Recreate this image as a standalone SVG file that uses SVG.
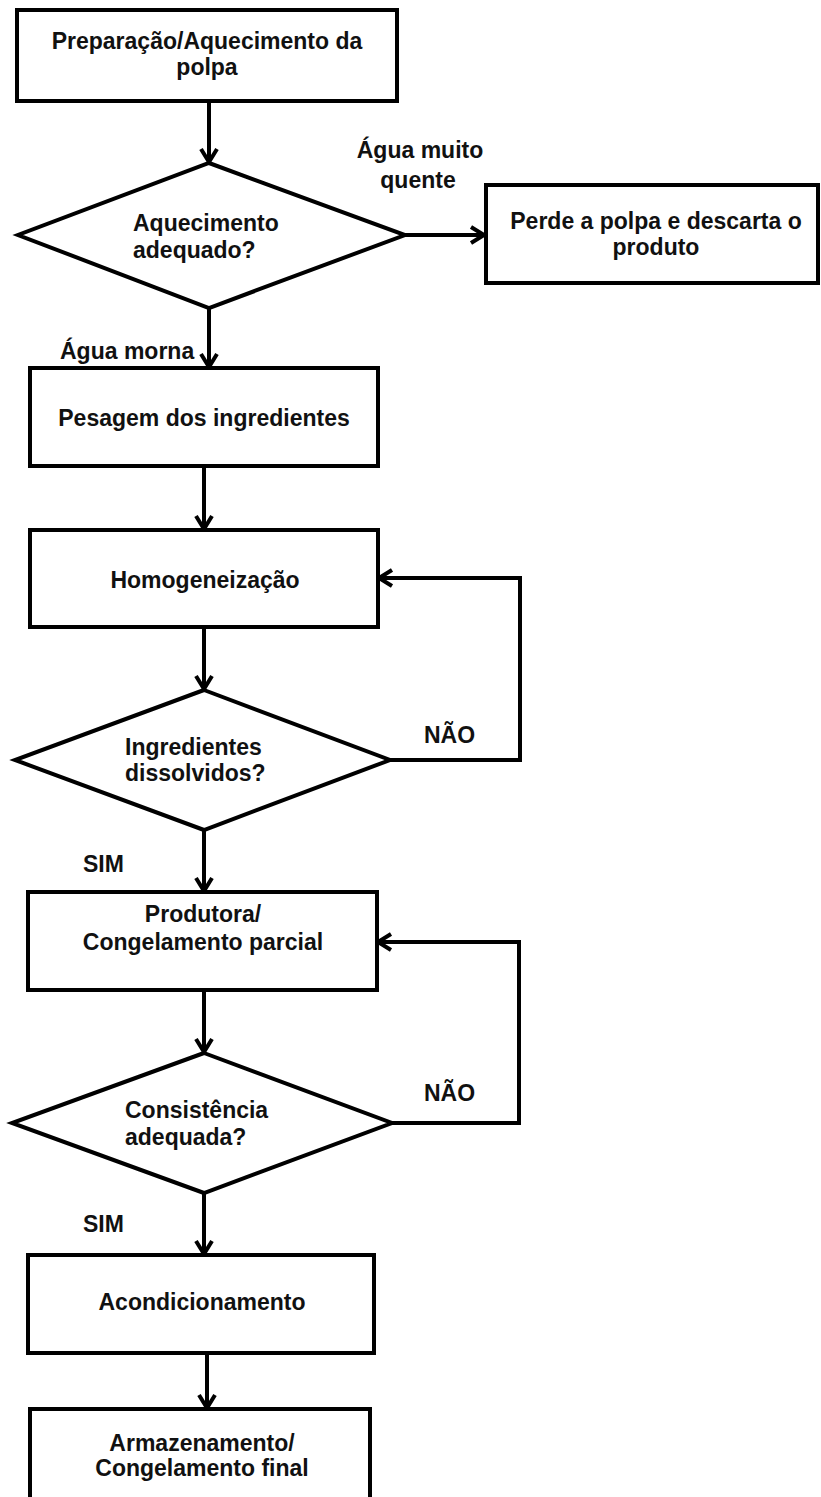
<svg xmlns="http://www.w3.org/2000/svg" width="821" height="1497" viewBox="0 0 821 1497">
<defs>
<marker id="ah" viewBox="0 0 20 20" refX="17" refY="10" markerWidth="20" markerHeight="20" markerUnits="userSpaceOnUse" orient="auto">
<path d="M4,2 L17,10 L4,18" fill="none" stroke="#000" stroke-width="4" stroke-linejoin="miter"/>
</marker>
<style>
.n{fill:#fff;stroke:#000;stroke-width:4}
.t{font-family:"Liberation Sans",Arial,sans-serif;font-weight:bold;font-size:23px;fill:#111;text-anchor:middle}
.d{font-family:"Liberation Sans",Arial,sans-serif;font-weight:bold;font-size:23px;fill:#111}
.l{font-family:"Liberation Sans",Arial,sans-serif;font-weight:bold;font-size:23px;fill:#111}
.c{fill:none;stroke:#000;stroke-width:4;marker-end:url(#ah)}
</style>
</defs>
<rect width="821" height="1497" fill="#fff"/>
<g id="connectors">
<path class="c" d="M209,101 L209,162"/>
<path class="c" d="M405,235 L484,235"/>
<path class="c" d="M209,308 L209,367"/>
<path class="c" d="M204,466 L204,529"/>
<path class="c" d="M204,627 L204,689"/>
<path class="c" d="M390,760 L520,760 L520,578 L379,578"/>
<path class="c" d="M204,830 L204,891"/>
<path class="c" d="M204,990 L204,1052"/>
<path class="c" d="M392,1123 L519,1123 L519,942 L378,942"/>
<path class="c" d="M204,1193 L204,1254"/>
<path class="c" d="M207,1353 L207,1408"/>
<text class="l" x="420" y="158" text-anchor="middle" font-size="21">Água muito</text>
<text class="l" x="418" y="188" text-anchor="middle" font-size="21">quente</text>
<text class="l" x="60" y="359">Água morna</text>
<text class="l" x="424" y="743">NÃO</text>
<text class="l" x="83" y="872">SIM</text>
<text class="l" x="424" y="1101">NÃO</text>
<text class="l" x="83" y="1232">SIM</text>
</g>
<g id="n1"><rect class="n" x="17" y="10" width="380" height="91"/>
<text class="t" x="207" y="49">Preparação/Aquecimento da</text><text class="t" x="207" y="75">polpa</text></g>
<g id="n2"><polygon class="n" points="209,163 405,235 209,308 18,235"/>
<text class="d" x="133" y="231">Aquecimento</text><text class="d" x="133" y="258">adequado?</text></g>
<g id="n3"><rect class="n" x="486" y="185" width="332" height="98"/>
<text class="t" x="656" y="229">Perde a polpa e descarta o</text><text class="t" x="656" y="255">produto</text></g>
<g id="n4"><rect class="n" x="30" y="368" width="348" height="98"/>
<text class="t" x="204" y="426">Pesagem dos ingredientes</text></g>
<g id="n5"><rect class="n" x="30" y="530" width="348" height="97"/>
<text class="t" x="205" y="588">Homogeneização</text></g>
<g id="n6"><polygon class="n" points="204,690 390,760 204,830 15,760"/>
<text class="d" x="125" y="755">Ingredientes</text><text class="d" x="125" y="781">dissolvidos?</text></g>
<g id="n7"><rect class="n" x="28" y="892" width="349" height="98"/>
<text class="t" x="203" y="922">Produtora/</text><text class="t" x="203" y="950">Congelamento parcial</text></g>
<g id="n8"><polygon class="n" points="204,1053 392,1123 204,1193 12,1123"/>
<text class="d" x="125" y="1118">Consistência</text><text class="d" x="125" y="1145">adequada?</text></g>
<g id="n9"><rect class="n" x="28" y="1255" width="346" height="98"/>
<text class="t" x="202" y="1310">Acondicionamento</text></g>
<g id="n10"><rect class="n" x="30" y="1409" width="340" height="100"/>
<text class="t" x="202" y="1451">Armazenamento/</text><text class="t" x="202" y="1476">Congelamento final</text></g>
</svg>
